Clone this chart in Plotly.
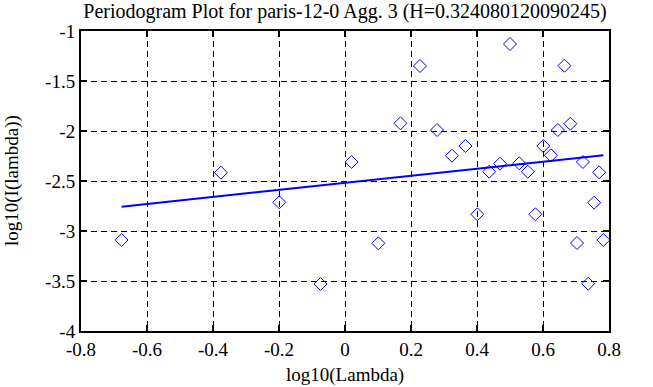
import plotly.graph_objects as go

log_lambda = [-0.677, -0.376, -0.199, -0.074, 0.020, 0.101, 0.168, 0.227, 0.279, 0.324,
              0.365, 0.401, 0.437, 0.470, 0.500, 0.528, 0.554, 0.577, 0.601, 0.624,
              0.645, 0.665, 0.683, 0.703, 0.721, 0.737, 0.755, 0.770, 0.783]
log_I = [-3.09, -2.417, -2.713, -3.53, -2.31, -3.123, -1.923, -1.35, -1.99, -2.247,
         -2.15, -2.833, -2.407, -2.327, -1.13, -2.323, -2.407, -2.833, -2.15, -2.243,
         -1.99, -1.347, -1.927, -3.12, -2.31, -3.527, -2.717, -2.413, -3.09]
fit_x = [-0.677, 0.783]
fit_y = [-2.757, -2.243]

x_ticks = [-0.8, -0.6, -0.4, -0.2, 0, 0.2, 0.4, 0.6, 0.8]
x_labels = ["-0.8", "-0.6", "-0.4", "-0.2", "0", "0.2", "0.4", "0.6", "0.8"]
y_ticks = [-4, -3.5, -3, -2.5, -2, -1.5, -1]
y_labels = ["-4", "-3.5", "-3", "-2.5", "-2", "-1.5", "-1"]

font = "Liberation Serif"

fig = go.Figure()
fig.add_trace(go.Scatter(x=log_lambda, y=log_I, mode="markers",
                         marker=dict(symbol="diamond-open", size=10, color="#0000ff",
                                     line=dict(width=1, color="#0000ff")),
                         showlegend=False, hoverinfo="skip"))
fig.add_trace(go.Scatter(x=fit_x, y=fit_y, mode="lines",
                         line=dict(color="#0000ff", width=2), showlegend=False,
                         hoverinfo="skip"))

axis_common = dict(showline=True, linecolor="black", linewidth=2, mirror="allticks",
                   ticks="inside", ticklen=6, tickwidth=2, tickcolor="black",
                   showgrid=True, gridcolor="black", griddash="6px,4px", gridwidth=1,
                   zeroline=False, automargin=False,
                   tickfont=dict(family=font, size=19, color="black"))

fig.update_layout(
    width=653, height=387,
    margin=dict(l=81, r=44, t=31, b=56),
    paper_bgcolor="white", plot_bgcolor="white",
    font=dict(family=font, size=19, color="black"),
    title=dict(text="Periodogram Plot for paris-12-0 Agg. 3 (H=0.324080120090245)",
               x=0.5, xref="paper", xanchor="center",
               y=1 - 11 / 387, yref="container", yanchor="middle",
               font=dict(family=font, size=20, color="black")),
    xaxis=dict(range=[-0.8, 0.8], tickvals=x_ticks, ticktext=x_labels, **axis_common),
    yaxis=dict(range=[-4, -1], tickvals=y_ticks, ticktext=y_labels,
               ticklabelstandoff=0, **axis_common),
    annotations=[
        dict(text="log10(Lambda)", xref="paper", yref="paper", x=0.5, y=-44 / 300,
             xanchor="center", yanchor="middle", showarrow=False,
             font=dict(family=font, size=19, color="black")),
        dict(text="log10(I(lambda))", xref="paper", yref="paper", x=-69 / 528, y=0.5,
             xanchor="center", yanchor="middle", textangle=-90, showarrow=False,
             font=dict(family=font, size=19, color="black")),
    ],
)

fig.write_html("out.html", config={"displayModeBar": False},
               post_script="document.body.style.margin='0px';document.body.style.padding='0px';")
